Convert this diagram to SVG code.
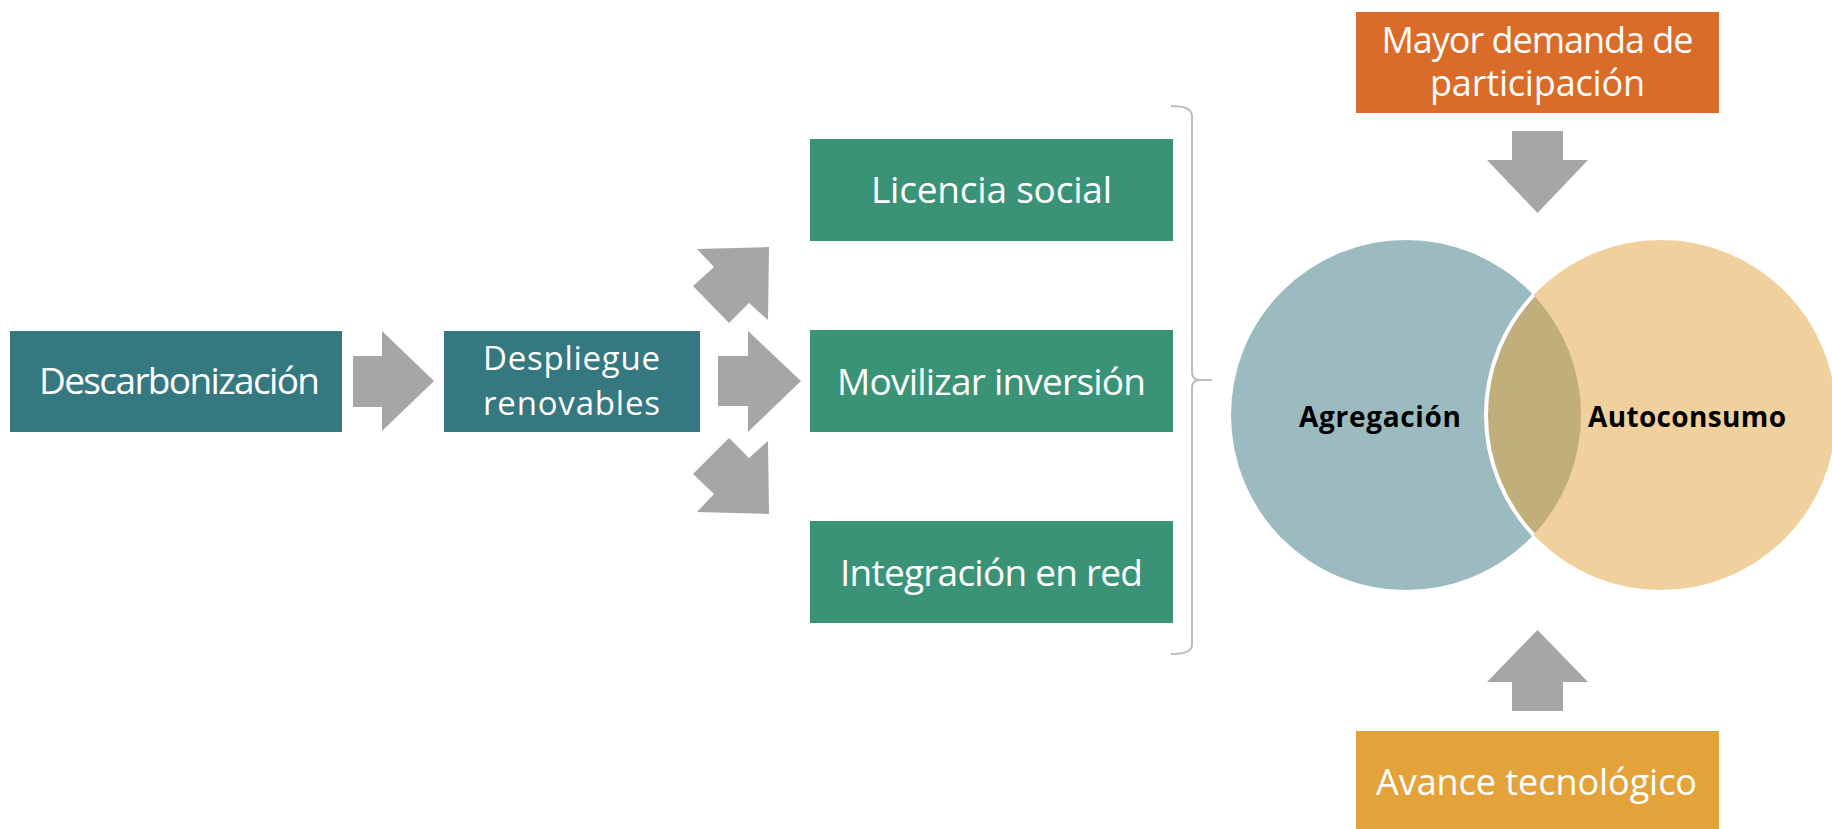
<svg xmlns="http://www.w3.org/2000/svg" width="1832" height="829" viewBox="0 0 1832 829">
<style>
.teal{fill:#35787F}
.green{fill:#3B9377}
.arrow{fill:#A6A6A6}
.t{font-family:"Open Sans","Liberation Sans",sans-serif;fill:#FFFFFF;text-anchor:middle}
.b{font-family:"Open Sans","Liberation Sans",sans-serif;font-weight:bold;fill:#000000;text-anchor:middle;font-size:28px}
.brace{fill:none;stroke:#BDBDBD;stroke-width:2}
</style>
<rect width="1832" height="829" fill="#FFFFFF"/>
<g id="connectors">
<polygon class="arrow" points="353,356 382,356 382,331 434,381 382,431 382,407 353,407"/>
<polygon class="arrow" points="718,356 748,356 748,331 801,381 748,432 748,406 718,406"/>
<polygon class="arrow" points="697,249 769,247 768,320 749,303 729,323 693,286 714,267"/>
<polygon class="arrow" points="729,438 749,458 768,441 769,514 697,512 714,494 693,474"/>
<polygon class="arrow" points="1512,131 1563,131 1563,160 1588,160 1537.5,213 1487,160 1512,160"/>
<polygon class="arrow" points="1537.5,630 1588,682 1563,682 1563,711 1512,711 1512,682 1487,682"/>
<path class="brace" d="M1171 106 Q1192 106 1192 116 L1192 372 Q1192 380 1200 380 L1212 380 M1200 380 Q1192 380 1192 388 L1192 645 Q1192 654 1171 654"/>
</g>
<g id="n-descarbonizacion">
<rect class="teal" x="10" y="331" width="332" height="101"/>
<text class="t" x="179.5" y="394" font-size="37" textLength="281">Descarbonización</text>
</g>
<g id="n-despliegue">
<rect class="teal" x="444" y="331" width="256" height="101"/>
<text class="t" x="571.5" y="370" font-size="33" textLength="177">Despliegue</text>
<text class="t" x="571.5" y="415" font-size="33" textLength="177">renovables</text>
</g>
<g id="n-licencia">
<rect class="green" x="810" y="139" width="363" height="102"/>
<text class="t" x="991.5" y="203" font-size="37" textLength="241">Licencia social</text>
</g>
<g id="n-movilizar">
<rect class="green" x="810" y="330" width="363" height="102"/>
<text class="t" x="991.5" y="395" font-size="37" textLength="309">Movilizar inversión</text>
</g>
<g id="n-integracion">
<rect class="green" x="810" y="521" width="363" height="102"/>
<text class="t" x="991.5" y="586" font-size="37" textLength="303">Integración en red</text>
</g>
<g id="n-demanda">
<rect x="1356" y="12" width="363" height="101" fill="#DA6C2A"/>
<text class="t" x="1537.5" y="53" font-size="36" textLength="312">Mayor demanda de</text>
<text class="t" x="1537.5" y="96" font-size="36" textLength="215">participación</text>
</g>
<g id="n-avance">
<rect x="1356" y="731" width="363" height="110" fill="#E3A33A"/>
<text class="t" x="1536.5" y="795" font-size="36" textLength="321">Avance tecnológico</text>
</g>
<g id="n-venn">
<circle cx="1406" cy="415" r="175" fill="#9BBBC1"/>
<circle cx="1661" cy="415" r="175" fill="#F0D19D"/>
<path d="M1533.5 295.1 A175 175 0 0 0 1533.5 534.9 A175 175 0 0 0 1533.5 295.1 Z" fill="#C0AE7B"/>
<path d="M1533.5 295.1 A175 175 0 0 0 1533.5 534.9" fill="none" stroke="#FFFFFF" stroke-width="4"/>
</g>
<g id="n-agregacion">
<text class="b" x="1380" y="427" textLength="162">Agregación</text>
</g>
<g id="n-autoconsumo">
<text class="b" x="1687" y="427" textLength="198">Autoconsumo</text>
</g>
</svg>
